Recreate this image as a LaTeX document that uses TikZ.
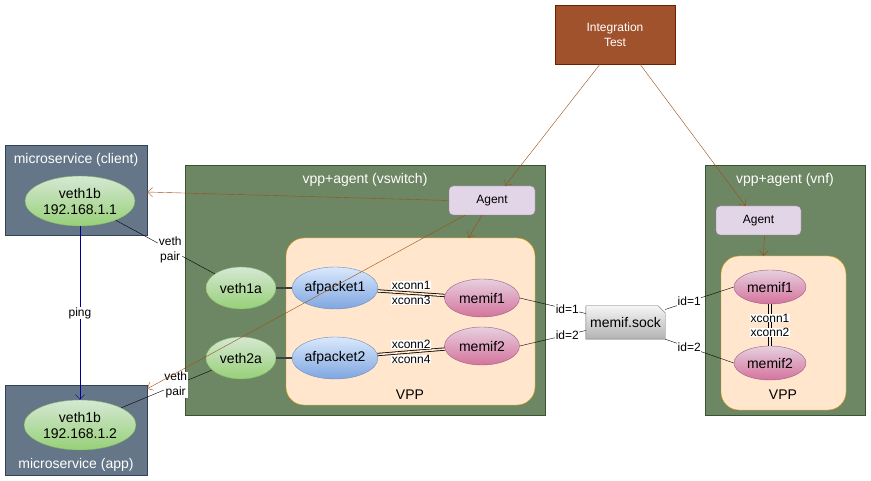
\documentclass[tikz,border=0pt]{standalone}
\usepackage{fontspec}
\setsansfont{Liberation Sans}
\usetikzlibrary{arrows.meta,positioning,backgrounds,shapes.geometric}

\definecolor{msfill}{HTML}{647687}
\definecolor{msline}{HTML}{314354}
\definecolor{hostfill}{HTML}{6D8764}
\definecolor{hostline}{HTML}{3A5431}
\definecolor{agfill}{HTML}{E1D5E7}
\definecolor{agline}{HTML}{9673A6}
\definecolor{vppfill}{HTML}{FFE6CC}
\definecolor{vppline}{HTML}{D79B00}
\definecolor{testfill}{HTML}{A0522D}
\definecolor{testline}{HTML}{6D1F00}
\definecolor{gntop}{HTML}{D5E8D4}
\definecolor{gnbot}{HTML}{97D077}
\definecolor{gnline}{HTML}{82B366}
\definecolor{bltop}{HTML}{DAE8FC}
\definecolor{blbot}{HTML}{7EA6E0}
\definecolor{blline}{HTML}{6C8EBF}
\definecolor{pktop}{HTML}{E6D0DE}
\definecolor{pkbot}{HTML}{D5739D}
\definecolor{pkline}{HTML}{996185}
\definecolor{socktop}{HTML}{F5F5F5}
\definecolor{sockbot}{HTML}{B3B3B3}
\definecolor{sockline}{HTML}{666666}
\definecolor{arrcol}{HTML}{9C4F14}
\definecolor{pingcol}{HTML}{000099}

\begin{document}
\begin{tikzpicture}[
  x=1pt, y=-1pt,
  font=\sffamily\fontsize{14}{16}\selectfont,
  small/.style={font=\sffamily\fontsize{12}{15}\selectfont},
  ms/.style={draw=msline, fill=msfill, minimum width=142pt, minimum height=90pt},
  host/.style={draw=hostline, fill=hostfill, minimum width=160pt, minimum height=250pt},
  test/.style={draw=testline, fill=testfill, text=white, align=center, small,
               minimum width=120pt, minimum height=59pt},
  agent/.style={draw=agline, fill=agfill, rounded corners=4pt, small,
                minimum width=86pt, minimum height=29pt},
  vpp/.style={draw=vppline, fill=vppfill, rounded corners=18pt},
  ttl/.style={text=white, inner sep=0pt},
  ifc/.style={ellipse, inner sep=0pt, align=center, minimum width=70pt, minimum height=42pt},
  veth/.style={ifc, draw=gnline, top color=gntop, bottom color=gnbot},
  afp/.style={ifc, draw=blline, top color=bltop, bottom color=blbot, minimum width=80pt},
  memif/.style={ifc, draw=pkline, top color=pktop, bottom color=pkbot, minimum width=75pt, minimum height=38pt},
  lbl/.style={fill=white, inner xsep=0.5pt, inner ysep=0pt, align=center, small},
  arr/.style={draw=arrcol, -{Straight Barb[length=5pt,width=9pt]}},
  ping/.style={draw=pingcol, -{Straight Barb[length=5pt,width=9pt]}},
  link/.style={draw=black!75, line width=1.4pt},
  dbl/.style={double=vppfill, double distance=1.6pt, line width=0.8pt},
]
\begin{scope}[on background layer]
  \fill[white] (0,0) rectangle (871,481);
\end{scope}
\useasboundingbox (0,0) rectangle (871,481);

% test driver
\node[test] (test) at (615,34.5) {Integration\\Test};

% microservices
\node[ms] (cli) at (76,190) {};
\node[ttl] (clitxt) at (76,160) {microservice (client)};
\node[veth, minimum width=110pt, minimum height=50pt] (clieth) at (80,201) {veth1b\\192.168.1.1};
\node[ms] (app) at (76,430) {};
\node[ttl] (apptxt) at (76,465) {microservice (app)};
\node[veth, minimum width=112pt, minimum height=50pt] (appeth) at (80,425) {veth1b\\192.168.1.2};

% vswitch
\node[host, minimum width=360pt] (vsw) at (365,290) {};
\node[ttl] (vswtxt) at (365,180) {vpp+agent (vswitch)};
\node[agent] (agent1) at (492,200.5) {Agent};
\node[vpp, minimum width=249pt, minimum height=167pt] (vpp1) at (410.5,321.5) {};
\node[inner sep=0pt] (vpp1txt) at (410,395) {VPP};
\node[veth] (veth1a) at (241,288) {veth1a};
\node[veth] (veth2a) at (241,358) {veth2a};
\node[afp] (af1) at (335,288) {afpacket1};
\node[afp] (af2) at (335,358) {afpacket2};
\node[memif] (mem1) at (482,298) {memif1};
\node[memif] (mem2) at (482,346) {memif2};

% socket
\node[minimum width=79pt, minimum height=33pt, inner sep=0pt] (sock) at (625.5,322.5) {memif.sock};
\begin{scope}[on background layer]
  \path[draw=sockline, top color=socktop, bottom color=sockbot]
    (sock.north west) -- ([xshift=-7pt]sock.north east) -- ([yshift=-7pt]sock.north east)
    -- (sock.south east) -- (sock.south west) -- cycle;
\end{scope}

% vnf
\node[host] (vnf) at (785,290) {};
\node[ttl] (vnftxt) at (785,180) {vpp+agent (vnf)};
\node[agent, minimum width=85pt] (agent2) at (758.5,220.5) {Agent};
\node[vpp, minimum width=125pt, minimum height=154pt] (vpp2) at (783.5,333) {};
\node[inner sep=0pt] (vpp2txt) at (783,395) {VPP};
\node[memif, minimum width=72pt, minimum height=34pt] (vmem1) at (770,287) {memif1};
\node[memif, minimum width=72pt, minimum height=34pt] (vmem2) at (770,363) {memif2};

% links
\draw[link] (veth1a) -- (af1);
\draw[link] (veth2a) -- (af2);
\draw[dbl] (af1) -- node[lbl, midway, yshift=7.5pt] {xconn1} node[lbl, midway, yshift=-7.5pt] {xconn3} (mem1);
\draw[dbl] (af2) -- node[lbl, midway, yshift=7.5pt] {xconn2} node[lbl, midway, yshift=-7.5pt] {xconn4} (mem2);
\draw[dbl] (vmem1) -- node[lbl, midway, yshift=7pt] {xconn1} node[lbl, midway, yshift=-7.5pt] {xconn2} (vmem2);
\draw (clieth) -- node[lbl, pos=0.55] {veth\\pair} (veth1a);
\draw (appeth) -- node[lbl, pos=0.6] {veth\\pair} (veth2a);
\draw (mem1.east) -- node[lbl, pos=0.72] {id=1} ([yshift=9pt]sock.west);
\draw (mem2.east) -- node[lbl, pos=0.72] {id=2} ([yshift=-8pt]sock.west);
\draw ([yshift=13pt]sock.east) -- node[lbl, pos=0.35] {id=1} (vmem1.west);
\draw (sock.south east) -- node[lbl, pos=0.35] {id=2} (vmem2.west);
\draw[ping] (clieth) -- node[lbl] {ping} (appeth);

% control
\draw[arr] ([xshift=-15pt]test.south) -- ([xshift=13pt]agent1.north);
\draw[arr] ([xshift=25pt]test.south) -- ([xshift=-13pt]agent2.north);
\draw[arr] ([xshift=-10pt]agent1.south) -- ([xshift=58pt]vpp1.north);
\draw[arr] ([xshift=6pt]agent2.south) -- ([xshift=-20pt]vpp2.north);
\draw[arr] (agent1.west) -- ([yshift=-2pt]cli.east);
\draw[arr] ([xshift=-27pt]agent1.south) -- ([yshift=-4pt]app.north east);
\end{tikzpicture}
\end{document}
